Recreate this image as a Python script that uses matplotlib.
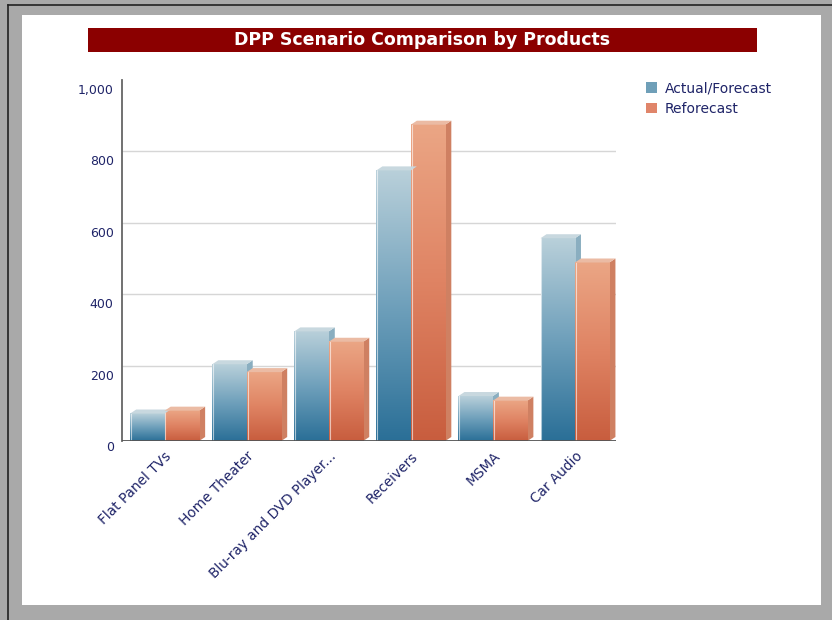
#!/usr/bin/env python3
"""DPP scenario comparison by products - pseudo-3D gradient bar chart."""

import numpy as np
import matplotlib
matplotlib.use("Agg")
import matplotlib.pyplot as plt
from matplotlib.colors import LinearSegmentedColormap
from matplotlib.patches import Rectangle, Polygon
from matplotlib.ticker import FuncFormatter
from matplotlib.transforms import IdentityTransform, ScaledTranslation

# Data
products = ["Flat Panel TVs", "Home Theater", "Blu-ray and DVD Player...",
            "Receivers", "MSMA", "Car Audio"]
actual_forecast = [77, 215, 307, 758, 126, 568]
reforecast = [85, 193, 278, 886, 113, 500]
series_names = ["Actual/Forecast", "Reforecast"]
y_ticks = [0, 200, 400, 600, 800, 1000]

W, H = 832, 620
TEXT = "#1f2468"

# gradient colours (bottom -> top), top face, side face
blue = dict(grad=["#2a6f97", "#6fa0bb", "#b9d0da"], top="#c8d8df", side="#8aaec0")
orange = dict(grad=["#c85d3e", "#df8363", "#eba685"], top="#ebbba4", side="#cf8062")

fig = plt.figure(figsize=(W / 100, H / 100), dpi=100, facecolor="#a9a9a9")

# white panel inside the grey frame
fig.patches.append(Rectangle((22 / W, 15 / H), 799 / W, 590 / H, transform=fig.transFigure,
                             facecolor="white", edgecolor="none", zorder=-2))
fig.add_artist(plt.Line2D([8 / W, 8 / W], [0, 1 - 5 / H], color="#222222", lw=1.2,
                          transform=fig.transFigure, zorder=-1))
fig.add_artist(plt.Line2D([8 / W, 1], [1 - 5 / H, 1 - 5 / H], color="#222222", lw=1.2,
                          transform=fig.transFigure, zorder=-1))

# title bar
fig.patches.append(Rectangle((88 / W, 1 - 52 / H), 669 / W, 24 / H, transform=fig.transFigure,
                             facecolor="#8b0000", edgecolor="none", zorder=-1))
fig.text(422 / W, 1 - 40 / H, "DPP Scenario Comparison by Products", color="white",
         fontsize=12.5, fontweight="bold", ha="center", va="center")

ax = fig.add_axes([122 / W, 1 - 441 / H, 494 / W, (441 - 84) / H])
ax.set_facecolor("none")
ax.set_xlim(-0.52, 5.5)
ax.set_ylim(0, 1000)

x = np.arange(len(products))
bw = 0.42
dx, dy = 6, 4  # depth of the 3D effect in pixels

# gridlines on the back wall
for t in y_ticks[1:]:
    p0 = ax.transData.transform((-0.52, t)) + (0, dy)
    p1 = ax.transData.transform((5.5, t)) + (dx, dy)
    ax.add_line(plt.Line2D([p0[0], p1[0]], [p0[1], p1[1]], color="#d6d6d6", lw=1,
                           transform=IdentityTransform(), zorder=0.5))

grad = np.linspace(0, 1, 256).reshape(-1, 1)
for vals, style, off in [(actual_forecast, blue, -bw / 2), (reforecast, orange, bw / 2)]:
    cmap = LinearSegmentedColormap.from_list("g", style["grad"])
    for xi, v in zip(x, vals):
        x0, x1 = xi + off - bw / 2, xi + off + bw / 2
        ax.imshow(grad, cmap=cmap, origin="lower", aspect="auto",
                  extent=[x0, x1, 0, v], zorder=2, interpolation="bilinear")
        a = ax.transData.transform((x0, v))
        b = ax.transData.transform((x1, v))
        c = ax.transData.transform((x1, 0))
        top = [a, b, b + (dx, dy), a + (dx, dy)]
        side = [c, b, b + (dx, dy), c + (dx, dy)]
        ax.add_patch(Polygon(top, closed=True, facecolor=style["top"], edgecolor="none",
                             transform=IdentityTransform(), zorder=3))
        ax.add_patch(Polygon(side, closed=True, facecolor=style["side"], edgecolor="none",
                             transform=IdentityTransform(), zorder=1.5))
        ax.plot([x0 + 0.01, x0 + 0.01], [0, v], color="white", lw=0.8, alpha=0.6, zorder=2.5)

ax.set_xlim(-0.52, 5.5)
ax.set_ylim(0, 1000)

# floor line with slanted end
f0 = ax.transData.transform((-0.52, 0))
f1 = ax.transData.transform((5.5, 0))
ax.add_line(plt.Line2D([f0[0], f1[0], f1[0] + dx], [f0[1], f1[1], f1[1] + dy],
                       color="#555555", lw=1.3, transform=IdentityTransform(), zorder=4))

for s in ["top", "right", "bottom"]:
    ax.spines[s].set_visible(False)
ax.spines["left"].set_color("#666666")
ax.spines["left"].set_linewidth(1.3)
ax.spines["left"].set_bounds(0, 1012)

ax.set_yticks(y_ticks)
ax.yaxis.set_major_formatter(FuncFormatter(lambda v, p: f"{int(v):,}"))
ax.set_xticks(x)
ax.set_xticklabels(products, rotation=45, ha="right", rotation_mode="anchor")
ax.tick_params(axis="both", length=0, colors=TEXT)
ax.tick_params(axis="y", pad=6, labelsize=9)
ax.tick_params(axis="x", pad=6, labelsize=9.8)

# y labels sit a little below their gridlines in the original
shift = ScaledTranslation(0, -5 / 100, fig.dpi_scale_trans)
for lab in ax.get_yticklabels():
    lab.set_transform(lab.get_transform() + shift)

handles = [Rectangle((0, 0), 1, 1, facecolor="#6f9fb8"), Rectangle((0, 0), 1, 1, facecolor="#e0856a")]
leg = fig.legend(handles, series_names, loc="upper left", bbox_to_anchor=(640 / W, 1 - 76 / H),
                 frameon=False, fontsize=10, handlelength=0.8, handleheight=0.8,
                 handletextpad=0.6, labelspacing=0.45, borderaxespad=0)
for t in leg.get_texts():
    t.set_color(TEXT)

fig.savefig("out.png", dpi=100, facecolor=fig.get_facecolor())
